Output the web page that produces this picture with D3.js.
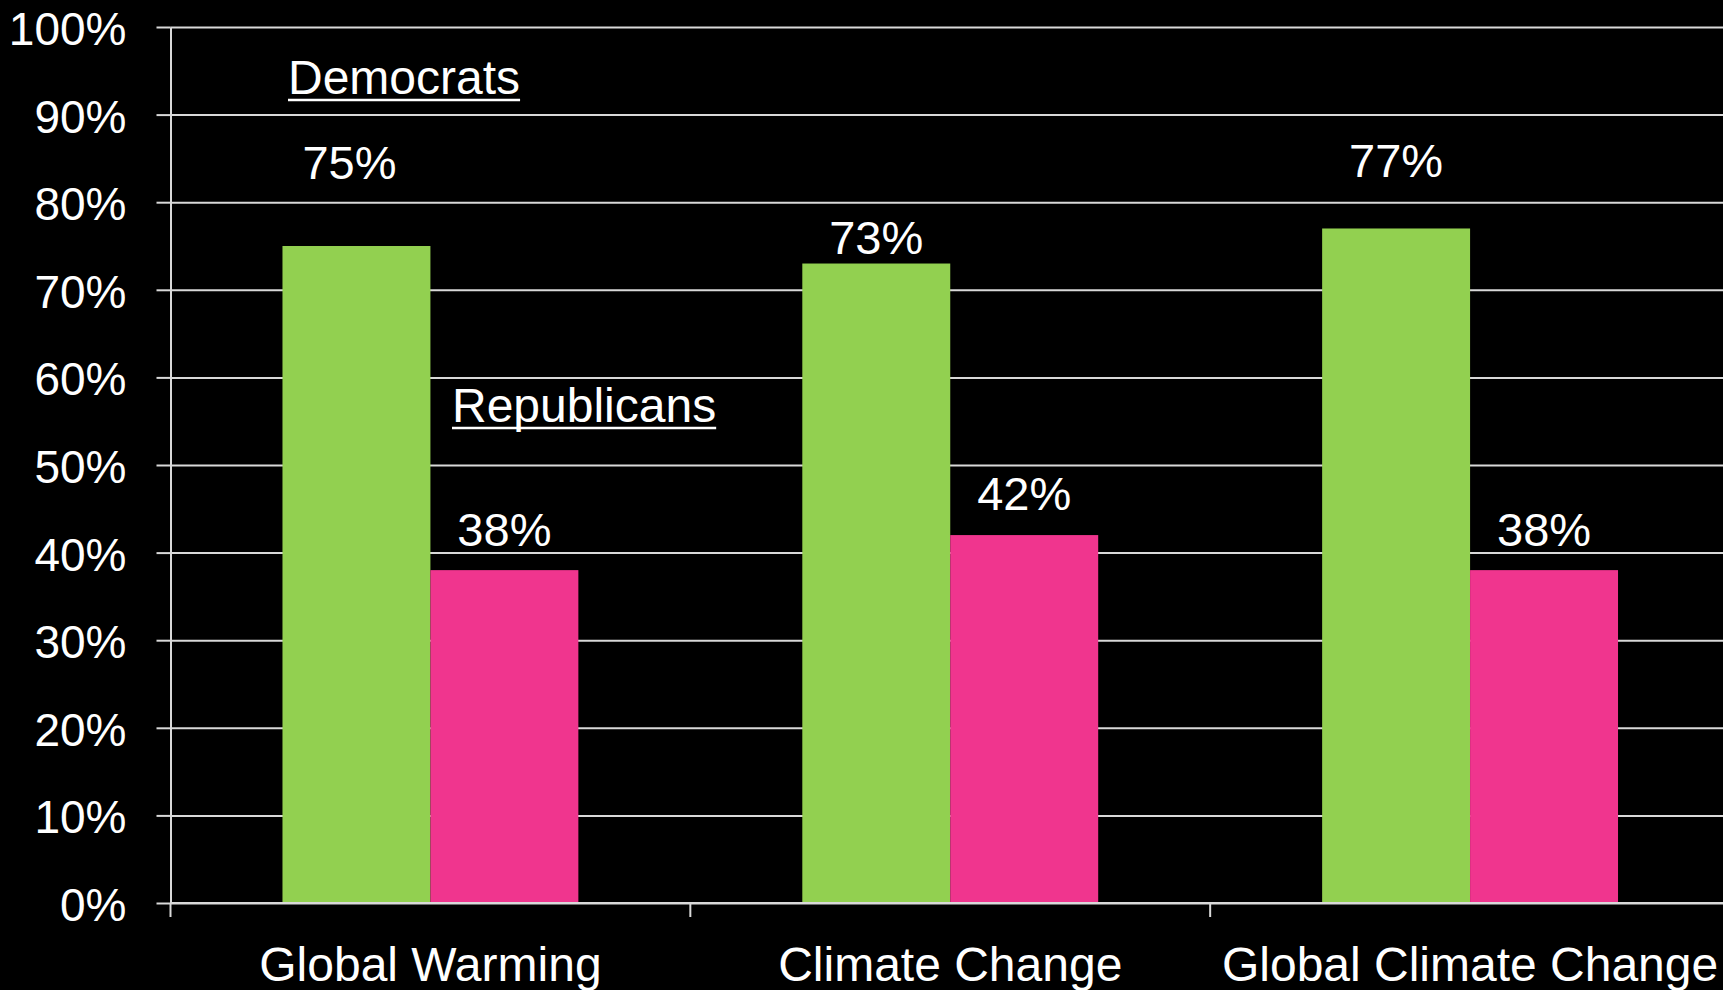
<!DOCTYPE html>
<html>
<head>
<meta charset="utf-8">
<script src="https://cdn.jsdelivr.net/npm/d3@7"></script>
<style>
  html, body { margin: 0; padding: 0; background: #000; }
  svg { display: block; }
  text { font-family: "Liberation Sans", Arial, sans-serif; fill: #fff; }
</style>
</head>
<body>
<div id="chart"></div>
<script>
const categories = ["Global Warming", "Climate Change", "Global Climate Change"];
const parties = ["Democrats", "Republicans"];
const democrats = [75, 73, 77];
const republicans = [38, 42, 38];
const yTicks = [0, 10, 20, 30, 40, 50, 60, 70, 80, 90, 100];

const dim = { width: 1723, height: 990 };
const margin = { top: 27, left: 170.5, right: -7, bottom: 87 };

// label nudges relative to bar tops, as placed on the slide
const labelLift = { Democrats: [67, 10, 51], Republicans: [24, 25, 24] };
const labelShift = { Democrats: [-7, 0, 0], Republicans: [0, 0, 0] };
const colors = { Democrats: "#92D050", Republicans: "#F0358E" };

const svg = d3.select("#chart").append("svg")
    .attr("width", dim.width)
    .attr("height", dim.height);

svg.append("rect")
    .attr("width", dim.width)
    .attr("height", dim.height)
    .attr("fill", "#000");

const xScale = d3.scaleBand()
    .domain(categories)
    .range([margin.left, dim.width - margin.right])
    .paddingInner(0.4308)
    .paddingOuter(0.2154);

const subScale = d3.scaleBand()
    .domain(parties)
    .range([0, xScale.bandwidth()]);

const yScale = d3.scaleLinear()
    .domain([0, 100])
    .range([dim.height - margin.bottom, margin.top]);

// gridlines
svg.append("g")
    .attr("class", "grid")
    .attr("transform", `translate(${margin.left},0)`)
    .call(d3.axisLeft(yScale).tickValues(yTicks).tickSize(-(dim.width - margin.left)).tickFormat(""))
    .call(g => g.select(".domain").remove())
    .call(g => g.selectAll("line").attr("stroke", "#d9d9d9").attr("stroke-width", 2));

const rows = categories.map((c, i) => ({ cat: c, i: i, Democrats: democrats[i], Republicans: republicans[i] }));

const groups = svg.selectAll(".group")
    .data(rows)
    .enter().append("g")
    .attr("class", "group")
    .attr("transform", d => `translate(${xScale(d.cat)},0)`);

groups.selectAll("rect")
    .data(d => parties.map(p => ({ party: p, value: d[p], i: d.i })))
    .enter().append("rect")
    .attr("x", d => subScale(d.party))
    .attr("y", d => yScale(d.value))
    .attr("width", subScale.bandwidth())
    .attr("height", d => yScale(0) - yScale(d.value))
    .attr("fill", d => colors[d.party]);

groups.selectAll(".valueLabel")
    .data(d => parties.map(p => ({ party: p, value: d[p], i: d.i })))
    .enter().append("text")
    .attr("class", "valueLabel")
    .attr("x", d => subScale(d.party) + subScale.bandwidth() / 2 + labelShift[d.party][d.i])
    .attr("y", d => yScale(d.value) - labelLift[d.party][d.i])
    .attr("text-anchor", "middle")
    .style("font-size", "47px")
    .text(d => `${d.value}%`);

// y axis
svg.append("g")
    .attr("class", "yAxis")
    .attr("transform", `translate(${margin.left},0)`)
    .call(d3.axisLeft(yScale).tickValues(yTicks).tickSize(14).tickSizeOuter(0).tickPadding(30)
        .tickFormat(d => `${d}%`))
    .call(g => g.select(".domain").attr("stroke", "#d9d9d9").attr("stroke-width", 2))
    .call(g => g.selectAll("line").attr("stroke", "#d9d9d9").attr("stroke-width", 2))
    .call(g => g.selectAll("text")
        .attr("fill", "#fff")
        .attr("dy", "0.38em")
        .style("font-size", "46px")
        .style("font-family", "'Liberation Sans', Arial, sans-serif"));

// x axis line and category boundary ticks
const base = yScale(0);
svg.append("line")
    .attr("x1", margin.left).attr("x2", dim.width)
    .attr("y1", base).attr("y2", base)
    .attr("stroke", "#d9d9d9").attr("stroke-width", 2);

const step = xScale.step();
svg.selectAll(".xTick")
    .data(categories)
    .enter().append("line")
    .attr("class", "xTick")
    .attr("x1", d => xScale(d) - step * xScale.paddingOuter())
    .attr("x2", d => xScale(d) - step * xScale.paddingOuter())
    .attr("y1", base)
    .attr("y2", base + 14)
    .attr("stroke", "#d9d9d9").attr("stroke-width", 2);

svg.selectAll(".xLabel")
    .data(categories)
    .enter().append("text")
    .attr("class", "xLabel")
    .attr("x", d => xScale(d) + xScale.bandwidth() / 2)
    .attr("y", base + 78)
    .attr("text-anchor", "middle")
    .style("font-size", "48px")
    .text(d => d);

// series names, underlined, placed as on the slide
const legendPos = { Democrats: [288, 94], Republicans: [452, 422] };
parties.forEach(p => {
    const t = svg.append("text")
        .attr("x", legendPos[p][0])
        .attr("y", legendPos[p][1])
        .style("font-size", "48px")
        .text(p);
    const w = t.node().getComputedTextLength();
    svg.append("line")
        .attr("x1", legendPos[p][0]).attr("x2", legendPos[p][0] + w)
        .attr("y1", legendPos[p][1] + 6).attr("y2", legendPos[p][1] + 6)
        .attr("stroke", "#fff").attr("stroke-width", 2.5);
});
</script>
</body>
</html>
